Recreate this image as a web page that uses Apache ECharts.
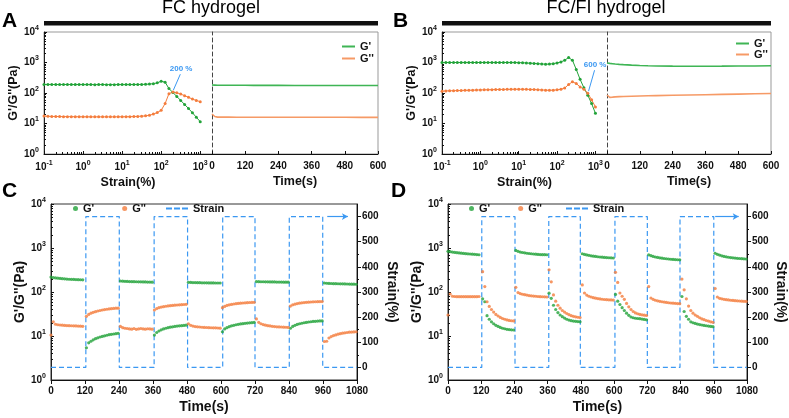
<!DOCTYPE html>
<html><head><meta charset="utf-8">
<script src="https://cdn.jsdelivr.net/npm/echarts@6/dist/echarts.min.js"></script>
<style>html,body{margin:0;padding:0;background:#fff}#c{width:789px;height:418px}</style>
</head><body><div id="c"></div>
<script>
// ---------- DATA ----------
const strainPts = [0.1,0.126,0.158,0.2,0.251,0.316,0.398,0.501,0.631,0.794,1,1.26,1.58,2,2.51,3.16,3.98,5.01,6.31,7.94,10,12.6,15.8,20,25.1,31.6,39.8,50.1,63.1,79.4,100,126,158,200,251,316,398,501,631,794,1000];
const aStrainG1 = [191,190,190,190,189,190,190,189,189,190,189,189,189,188,189,189,188,188,188,189,189,189,189,190,190,191,193,196,202,215,243,226,140,103,77,57,42,31,22.5,16,11.5];
const aStrainG2 = [17.5,17.2,17,17,16.9,16.8,16.8,16.7,16.7,16.6,16.6,16.6,16.5,16.5,16.5,16.5,16.5,16.5,16.5,16.6,16.6,16.7,16.8,16.9,17.1,17.4,17.8,18.6,20.3,22.8,27,45,95,108,102,92,82,72,63,57,52];
const bStrainG1 = [1000,1000,1000,1000,1000,1000,1000,1000,1000,1000,1000,1000,1000,1000,1000,1000,1000,1000,1000,995,990,980,965,950,935,915,895,882,885,915,970,1040,1190,1450,1190,590,280,148,85,45,21.5];
const bStrainG2 = [115,117,118,119,120,121,122,123,124,125,126,127,128,129,130,131,131,132,132,133,133,133,132,131,130,128,126,124,123,124,127,133,145,190,232,205,158,133,98,60,35];
const sweepTimes = [0,5,10,15,20,30,45,60,90,120,150,180,240,300,360,420,480,540,600];
const aTimeG1 = [182,181,181,180,180,180,180,179,179,179,178,178,178,177,177,177,176,176,176];
const aTimeG2 = [20.5,19,17,16.3,16.2,16.2,16.2,16.2,16.1,16.1,16.1,16.1,16,16,16,16,16,15.9,15.9];
const bTimeG1 = [965,950,935,925,915,895,870,850,820,800,785,772,760,757,757,760,765,772,780];
const bTimeG2 = [86,74,72,72.5,73,74.5,76,77,78.5,80,81,82,84,86,88,90,92,94,96];
const annotA = [[309,413],[205,124]];
const annotB = [[948,558],[661,115]];

const segStart = [0,125,245,365,485,605,725,845,965];
const segOffsets = [0,8,16,24,32,40,48,56,64,72,80,88,96,104,112];
const cG1 = [
 [218,213,209,206,203,201,199,197,195,194,193,192,191,190,189],
 [5.4,7.0,7.6,8.2,8.7,9.1,9.5,9.8,10.1,10.4,10.7,10.9,11.1,11.3,11.5],
 [178,176,175,174,173,172,171.5,171,170.5,170,169.5,169,168.5,168,167],
 [10.5,12,13,13.8,14.5,15,15.5,15.9,16.2,16.5,16.8,17,17.2,17.4,17.6],
 [166,165,164,164,163,163,162,162,162,161,161,161,160,160,160],
 [12.5,14.5,15.5,16.3,17,17.5,18,18.4,18.8,19.1,19.4,19.7,19.9,20.1,20.3],
 [173,172,171,171,170,170,169,169,169,168,168,168,167,167,167],
 [15,16.5,17.5,18.3,19,19.5,20,20.4,20.8,21.1,21.4,21.6,21.8,22,22],
 [160,158,157,156,155,154.5,154,153.5,153,152.5,152,151.5,151,150.5,150]
];
const cG2 = [
 [10.5,21,18.5,18,17.8,17.6,17.4,17.3,17.2,17.1,17,16.9,16.8,16.7,16.6],
 [28,31,33,34.5,35.8,37,38,39,39.8,40.5,41.2,41.8,42.3,42.8,43],
 [16.5,15.5,15,14.8,14.5,14.3,14.8,14.2,14.5,14.8,14.5,14.3,14.6,14.5,14.3],
 [39,42,44,45.5,46.5,47.5,48.3,49,49.6,50.2,50.7,51.2,51.6,52,52.5],
 [19,17.5,16.8,16.4,16.2,16,15.8,15.7,15.6,15.5,15.4,15.3,15.3,15.2,15.1],
 [44,47,49.5,51,52.3,53.4,54.3,55,55.7,56.3,56.8,57.3,57.7,58,58.3],
 [24.5,20.5,19,18.2,17.6,17.2,16.9,16.6,16.4,16.2,16.1,16,15.9,15.8,15.7],
 [48,51,53,54.5,55.7,56.7,57.5,58.2,58.8,59.3,59.7,60,60.3,60.5,60.7],
 [7.5,7.6,9,9.7,10.2,10.6,11,11.3,11.6,11.8,12,12.2,12.3,12.4,12.5]
];
const dG1 = [
 [840,825,810,795,783,772,762,753,745,738,731,724,717,710,703],
 [70,60,29,24,21,19,17.5,16.5,15.7,15,14.6,14.2,14,13.8,13.7],
 [880,840,810,790,775,760,750,740,730,722,715,710,707,704,702],
 [94,72,50,40,34,30,27.5,25.5,24,23,22.3,21.8,21.5,21.3,21],
 [740,715,695,680,665,652,642,633,625,618,612,606,601,597,592],
 [88,62,52,44,38,33,29.5,27,26,25.3,25,24.7,24.2,23.8,23.3],
 [700,670,645,625,610,598,588,578,570,562,555,550,545,541,538],
 [79,36,28,24,21,20,19.3,18.7,18.2,17.8,17.4,17.1,16.8,16.5,16.3],
 [760,720,690,665,645,630,617,606,597,590,583,577,572,567,563]
];
const dG2 = [
 [30,90,80,79,78.5,78.5,78.5,78.5,78.5,78.5,78.5,78.5,78.5,78.5,79],
 [290,133,60,47,40,35,31,28.5,26.5,25,24,23.2,22.6,22.2,22],
 [128,97,92,89,87,85,83,82,81,80,79,78.5,78,77.5,77],
 [320,170,86,62,50,43,38,35,32.5,30.5,29,28,27.3,26.7,26.2],
 [145,95,85,80,77,74.5,72.5,71,69.5,68.5,67.5,67,66.5,66,65.5],
 [280,165,95,80,68,55,46,40,36,33.5,32,31,30.3,29.7,29.2],
 [133,73,68,65,63,61.5,60,59,58,57,56.3,55.7,55.2,54.7,54.3],
 [197,112,70,48,38,33,30,28,26,24.5,23.5,22.5,21.8,21,20.5],
 [120,77,72,70,68,67,66,65,64.3,63.6,63,62.5,62,61.5,61]
];
const strainTimesC = [0,123,123,241,241,364,364,482,482,606,606,720,720,841,841,959,959,1080];
const strainTimesD = [0,122,122,242,242,364,364,478,478,603,603,720,720,838,838,960,960,1080];
const strainVals = [0,0,600,600,0,0,600,600,0,0,600,600,0,0,600,600,0,0];
const strainTicks = [0,100,200,300,400,500,600];
const strainMinorTicks = [50,150,250,350,450,550];
const logMinorY = [2,3,4,5,6,7,8,9,20,30,40,50,60,70,80,90,200,300,400,500,600,700,800,900,2000,3000,4000,5000,6000,7000,8000,9000];
const logMinorX = [0.2,0.3,0.4,0.5,0.6,0.7,0.8,0.9,2,3,4,5,6,7,8,9,20,30,40,50,60,70,80,90,200,300,400,500,600,700,800,900];
const arrowC = [[975,600],[1048,600]];
const arrowD = [[965,600],[1050,600]];
const legendNames = {aT1:"G'",aT2:"G''",bT1:"G'",bT2:"G''",cG1:"G'",cG2:"G''",cS:'Strain',dG1:"G'",dG2:"G''",dS:'Strain'};

// ---------- STYLE ----------
const FONT = 'Liberation Sans, Arial, sans-serif';
const GREEN = '#22a339', ORANGE = '#f47d3d', BLUE = '#3b98f2';
const LGREEN = '#3fb555', LORANGE = '#f69a66';
const TXT = {color:'#111', fontWeight:'bold', fontFamily:FONT};
const supFmt = v => '10{s|' + Math.round(Math.log10(v)) + '}';
const supRich = s => ({ s:{fontSize:s, fontWeight:'bold', color:'#111', fontFamily:FONT, verticalAlign:'top', lineHeight:7} });
const plainFmt = v => String(v);

function segData(segs){ const out=[]; segs.forEach((vals,k)=>vals.forEach((v,j)=>out.push([segStart[k]+segOffsets[j], v]))); return out; }
function pairs(xs, ys){ return xs.map((x,i)=>[x, ys[i]]); }

const line0 = c => ({show:true, onZero:false, lineStyle:{color:c, width:1}});
const none = {show:false};

function strainX(g){ return {type:'log', gridIndex:g, position:'bottom', min:0.1, max:2000, axisLine:line0('#111'),
  axisTick:{show:true, inside:true, length:3, lineStyle:{color:'#111'}}, splitLine:none, minorSplitLine:none,
  axisLabel:{...TXT, fontSize:10, margin:6, lineHeight:15, formatter:supFmt, rich:supRich(7)},
  name:'Strain(%)', nameLocation:'middle', nameGap:21, nameTextStyle:{...TXT, fontSize:12.5}}; }
function strainXMinor(g){ return {type:'log', gridIndex:g, position:'bottom', min:0.1, max:2000, axisLine:none,
  axisTick:{show:true, inside:true, length:2, customValues:logMinorX, lineStyle:{color:'#111'}}, axisLabel:none, splitLine:none, minorSplitLine:none}; }
function timeX(g){ return {type:'value', gridIndex:g, position:'bottom', min:0, max:600, interval:120, axisLine:line0('#111'),
  axisTick:{show:true, inside:true, length:3, lineStyle:{color:'#111'}}, splitLine:none,
  axisLabel:{...TXT, fontSize:10, margin:7, formatter:plainFmt}, name:'Time(s)', nameLocation:'middle', nameGap:21, nameTextStyle:{...TXT, fontSize:12.5}}; }
function cycX(g){ return {type:'value', gridIndex:g, position:'bottom', min:0, max:1080, interval:120, axisLine:line0('#111'),
  axisTick:{show:true, inside:false, length:4, lineStyle:{color:'#111'}}, splitLine:none,
  axisLabel:{...TXT, fontSize:10, margin:6, formatter:plainFmt}, name:'Time(s)', nameLocation:'middle', nameGap:20, nameTextStyle:{...TXT, fontSize:14}}; }
function logY(g, gap, fs){ return {type:'log', gridIndex:g, position:'left', min:1, max:10000, axisLine:line0('#222'),
  axisTick:{show:true, inside:true, length:3, lineStyle:{color:'#111'}}, splitLine:none, minorSplitLine:none,
  axisLabel:{...TXT, fontSize:10, margin:5, lineHeight:15, formatter:supFmt, rich:supRich(7)},
  name:"G'/G''(Pa)", nameLocation:'middle', nameGap:gap, nameTextStyle:{...TXT, fontSize:fs}}; }
function logYMinor(g){ return {type:'log', gridIndex:g, position:'left', min:1, max:10000, axisLine:none,
  axisTick:{show:true, inside:true, length:2, customValues:logMinorY, lineStyle:{color:'#111'}}, axisLabel:none, splitLine:none, minorSplitLine:none}; }
function dashY(g){ return {type:'log', gridIndex:g, position:'left', min:1, max:10000, axisLine:{show:true, onZero:false, lineStyle:{color:'#444', width:1, type:[4,3]}},
  axisTick:none, axisLabel:none, splitLine:none, minorSplitLine:none}; }
function strainY(g, gap){ return {type:'value', gridIndex:g, position:'right', min:-50, max:650, axisLine:line0('#111'),
  axisTick:{show:true, inside:false, length:4, customValues:strainTicks, lineStyle:{color:'#111'}}, splitLine:none,
  axisLabel:{...TXT, fontSize:10, margin:5, customValues:strainTicks, formatter:plainFmt}, name:'Strain(%)', nameLocation:'middle', nameRotate:-90, nameGap:gap, nameTextStyle:{...TXT, fontSize:14}}; }
function strainYMinor(g){ return {type:'value', gridIndex:g, position:'right', min:-50, max:650, axisLine:none,
  axisTick:{show:true, inside:false, length:2, customValues:strainMinorTicks, lineStyle:{color:'#111'}}, axisLabel:none, splitLine:none}; }

// x: 0 A-strain,1 A-time,2 B-strain,3 B-time,4 C,5 D,6 A-minor,7 B-minor
const xAxis = [strainX(0), timeX(1), strainX(2), timeX(3), cycX(4), cycX(5), strainXMinor(0), strainXMinor(2)];
// y: 0 A,1 A-dash,2 B,3 B-dash,4 C,5 C-strain,6 D,7 D-strain,8..11 log minors,12,13 strain minors
const yAxis = [logY(0,10,12.5), dashY(1), logY(2,11,12.5), dashY(3),
  logY(4,21,14), strainY(4,28), logY(5,17,14), strainY(5,27),
  logYMinor(0), logYMinor(2), logYMinor(4), logYMinor(5), strainYMinor(4), strainYMinor(5)];

function annot(coords, text){ return {silent:true, symbol:['none','none'], data:[[{coord:coords[0]},{coord:coords[1]}]],
  lineStyle:{color:BLUE, width:1, type:'solid'}, label:{show:true, position:'start', formatter:text, color:BLUE, fontSize:8, fontWeight:'bold', fontFamily:FONT, distance:2}}; }
function arrow(coords){ return {silent:true, symbol:['none','arrow'], symbolSize:[5,6], data:[[{coord:coords[0]},{coord:coords[1]}]],
  lineStyle:{color:BLUE, width:1.2, type:'solid'}, label:none}; }

const sweepLine = (name, xi, yi, xs, ys, col, ml) => ({name, type:'line', xAxisIndex:xi, yAxisIndex:yi, data:pairs(xs,ys),
  symbol:'circle', symbolSize:3, showSymbol:true, itemStyle:{color:col}, lineStyle:{color:col, width:1}, markLine:ml, z:3});
const timeLine = (name, xi, yi, xs, ys, col) => ({name, type:'line', xAxisIndex:xi, yAxisIndex:yi, data:pairs(xs,ys),
  symbol:'none', itemStyle:{color:col}, lineStyle:{color:col, width:1.6}});
const scat = (name, xi, yi, segs, col) => ({name, type:'scatter', xAxisIndex:xi, yAxisIndex:yi, data:segData(segs),
  symbol:'circle', symbolSize:3.2, itemStyle:{color:col}, z:3});
const strainLine = (name, xi, yi, ts, ar) => ({name, type:'line', xAxisIndex:xi, yAxisIndex:yi, data:pairs(ts,strainVals),
  symbol:'none', itemStyle:{color:BLUE}, lineStyle:{color:BLUE, width:1.2, type:[5,3]}, markLine:arrow(ar), z:1});
const holder = (xi, yi) => ({type:'line', xAxisIndex:xi, yAxisIndex:yi, data:[], silent:true});

const series = [
  sweepLine('aS1',0,0,strainPts,aStrainG1,GREEN,annot(annotA,'200 %')),
  sweepLine('aS2',0,0,strainPts,aStrainG2,ORANGE),
  timeLine('aT1',1,1,sweepTimes,aTimeG1,LGREEN),
  timeLine('aT2',1,1,sweepTimes,aTimeG2,LORANGE),
  sweepLine('bS1',2,2,strainPts,bStrainG1,GREEN,annot(annotB,'600 %')),
  sweepLine('bS2',2,2,strainPts,bStrainG2,ORANGE),
  timeLine('bT1',3,3,sweepTimes,bTimeG1,LGREEN),
  timeLine('bT2',3,3,sweepTimes,bTimeG2,LORANGE),
  strainLine('cS',4,5,strainTimesC,arrowC),
  scat('cG1',4,4,cG1,GREEN),
  scat('cG2',4,4,cG2,ORANGE),
  strainLine('dS',5,7,strainTimesD,arrowD),
  scat('dG1',5,6,dG1,GREEN),
  scat('dG2',5,6,dG2,ORANGE),
  holder(6,8), holder(7,9), holder(4,10), holder(5,11), holder(4,12), holder(5,13)
];

const legTxt = {...TXT, fontSize:11};
const fmt = n => legendNames[n];
const dashIcon = 'path://M0,0h6v2h-6zM8,0h6v2h-6zM16,0h6v2h-6z';
const legend = [
  {data:['aT1','aT2'], orient:'vertical', left:342, top:41, icon:'rect', itemWidth:13, itemHeight:2, itemGap:1, textStyle:legTxt, formatter:fmt, selectedMode:false, padding:0},
  {data:['bT1','bT2'], orient:'vertical', left:736, top:38, icon:'rect', itemWidth:13, itemHeight:2, itemGap:0, textStyle:legTxt, formatter:fmt, selectedMode:false, padding:0},
  {data:['cG1','cG2'], left:73, top:203, itemWidth:5, itemHeight:5, itemGap:28, icon:'circle', textStyle:legTxt, formatter:fmt, selectedMode:false, padding:0},
  {data:['cS'], left:166, top:203, icon:dashIcon, itemWidth:22, itemHeight:2, textStyle:legTxt, formatter:fmt, selectedMode:false, padding:0},
  {data:['dG1','dG2'], left:469, top:203, itemWidth:5, itemHeight:5, itemGap:28, icon:'circle', textStyle:legTxt, formatter:fmt, selectedMode:false, padding:0},
  {data:['dS'], left:566, top:203, icon:dashIcon, itemWidth:22, itemHeight:2, textStyle:legTxt, formatter:fmt, selectedMode:false, padding:0}
];

const letter = (t,l,tp) => ({text:t, left:l, top:tp, padding:0, textStyle:{fontSize:21, fontWeight:'bold', color:'#000', fontFamily:FONT}});
const title = [
  letter('A',2,11), letter('B',393,11), letter('C',2,181), letter('D',391,181),
  {text:'FC hydrogel', left:211, top:-1, textAlign:'center', padding:0, textStyle:{fontSize:18, fontWeight:'normal', color:'#000', fontFamily:FONT}},
  {text:'FC/FI hydrogel', left:606, top:-1, textAlign:'center', padding:0, textStyle:{fontSize:18, fontWeight:'normal', color:'#000', fontFamily:FONT}}
];

const frameA = {show:true, borderColor:'#999', borderWidth:1, backgroundColor:'rgba(0,0,0,0)'};
const frameC = {show:true, borderColor:'#333', borderWidth:1, backgroundColor:'rgba(0,0,0,0)'};
const grid = [
  {left:44, top:32, width:168, height:122},
  {left:212, top:32, width:166, height:122},
  {left:442, top:32, width:165, height:122},
  {left:607, top:32, width:164, height:122},
  {left:51, top:204, width:306, height:176, ...frameC},
  {left:448, top:204, width:305, height:176, ...frameC},
  {left:44, top:32, width:334, height:122, ...frameA},
  {left:442, top:32, width:329, height:122, ...frameA}
];

const graphic = [
  {type:'rect', shape:{x:44, y:21, width:334, height:4.5}, style:{fill:'#111'}},
  {type:'rect', shape:{x:442, y:21, width:329, height:4.5}, style:{fill:'#111'}}
];

const chart = echarts.init(document.getElementById('c'), null, {renderer:'canvas'});
chart.setOption({animation:false, backgroundColor:'#fff', textStyle:{fontFamily:FONT}, title, legend, grid, xAxis, yAxis, series, graphic});
</script></body></html>
